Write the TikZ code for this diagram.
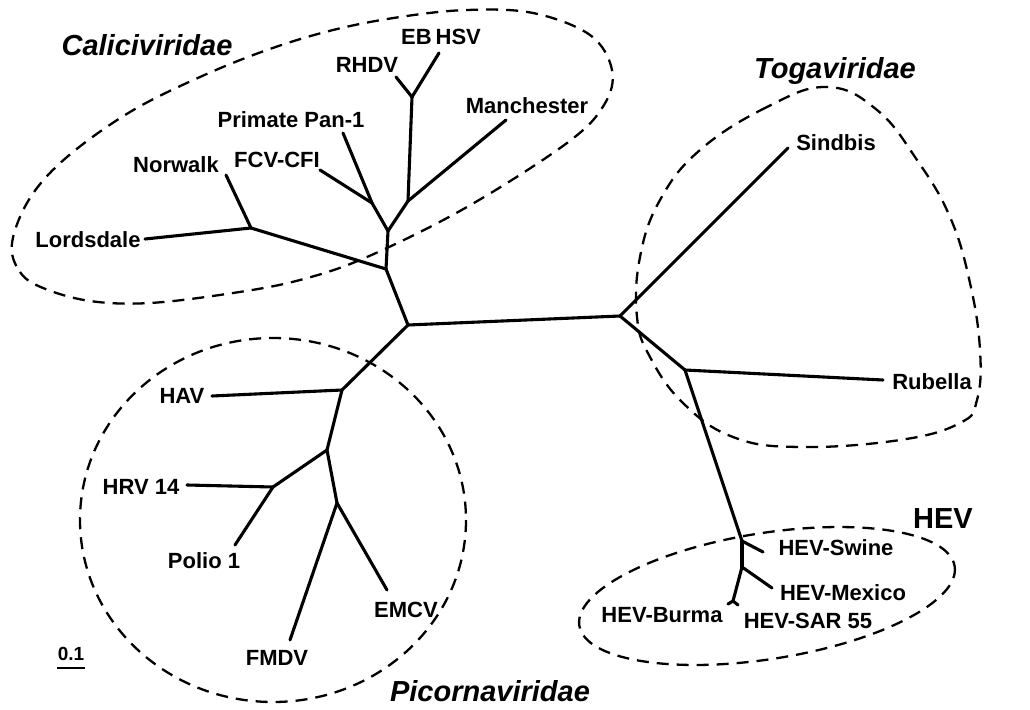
\documentclass[tikz,border=0pt]{standalone}
\usepackage{fontspec}
\setmainfont{Liberation Sans}
\begin{document}
\begin{tikzpicture}[x=1pt,y=-1pt,
  br/.style={line width=3.1pt, line cap=round, line join=round},
  grp/.style={line width=2.3pt, dash pattern=on 12pt off 8pt},
  lab/.style={font=\fontsize{22}{25}\selectfont\bfseries, inner sep=0pt, anchor=base},
  fam/.style={font=\fontsize{29}{32}\selectfont\bfseries\itshape, inner sep=0pt, anchor=base}]
\useasboundingbox (0,0) rectangle (1030,709);

% group outlines
\draw[grp] plot[smooth cycle, tension=0.6] coordinates {(12,243) (20,272) (43,288) (90,301) (150,303) (233,293) (300,280) (367,257) (467,207) (567,143) (604,105) (612,70) (590,35) (533,13) (467,10) (400,17) (333,30) (267,50) (200,77) (130,112) (67,157) (30,198)};
\draw[grp] (273,520) ellipse (193 and 182);
\draw[grp, rotate around={9:(767,596)}] (767,596) ellipse (190 and 63);
\draw[grp] plot[smooth cycle, tension=0.7] coordinates {(827,87) (767,107) (700,150) (660,200) (640,257) (637,317) (650,357) (683,403) (733,437) (800,447) (900,440) (960,423) (977,400) (980,350) (970,283) (950,217) (917,160) (877,110)};

% tree coordinates
\coordinate (L) at (408,325);
\coordinate (R) at (620,316);
\coordinate (C1) at (386,269);
\coordinate (N1) at (251,228);
\coordinate (lord) at (145,239);
\coordinate (nor) at (226,175);
\coordinate (C2) at (388,231);
\coordinate (C3) at (372,203);
\coordinate (C4) at (408,201);
\coordinate (fcv) at (320,170);
\coordinate (pan) at (343,133);
\coordinate (man) at (506,120);
\coordinate (C5) at (412,97);
\coordinate (rhdv) at (396,77);
\coordinate (ebhsv) at (439,53);
\coordinate (P1) at (342,390);
\coordinate (hav) at (212,396);
\coordinate (P2) at (327,450);
\coordinate (P3) at (273,487);
\coordinate (hrv) at (187,485);
\coordinate (polio) at (235,545);
\coordinate (P4) at (337,503);
\coordinate (fmdv) at (290,640);
\coordinate (emcv) at (387,590);
\coordinate (sind) at (788,148);
\coordinate (T1) at (685,370);
\coordinate (rub) at (883,380);
\coordinate (H1) at (742,541);
\coordinate (swine) at (763,552);
\coordinate (H2) at (742,567);
\coordinate (mex) at (772,588);
\coordinate (H3) at (733,601);
\coordinate (burma) at (728,604);
\coordinate (sar) at (738,605);

% branches
\draw[br] (L) -- (R);
\draw[br] (L) -- (C1);
\draw[br] (C1) -- (N1);
\draw[br] (N1) -- (lord);
\draw[br] (N1) -- (nor);
\draw[br] (C1) -- (C2);
\draw[br] (C2) -- (C3);
\draw[br] (C2) -- (C4);
\draw[br] (C3) -- (fcv);
\draw[br] (C3) -- (pan);
\draw[br] (C4) -- (man);
\draw[br] (C4) -- (C5);
\draw[br] (C5) -- (rhdv);
\draw[br] (C5) -- (ebhsv);
\draw[br] (L) -- (P1);
\draw[br] (P1) -- (hav);
\draw[br] (P1) -- (P2);
\draw[br] (P2) -- (P3);
\draw[br] (P3) -- (hrv);
\draw[br] (P3) -- (polio);
\draw[br] (P2) -- (P4);
\draw[br] (P4) -- (fmdv);
\draw[br] (P4) -- (emcv);
\draw[br] (R) -- (sind);
\draw[br] (R) -- (T1);
\draw[br] (T1) -- (rub);
\draw[br] (T1) -- (H1);
\draw[br] (H1) -- (swine);
\draw[br] (H1) -- (H2);
\draw[br] (H2) -- (mex);
\draw[br] (H2) -- (H3);
\draw[br] (H3) -- (burma);
\draw[br] (H3) -- (sar);

% labels
\node[fam] (fcal) at (147,56) {Caliciviridae};
\node[fam] (ftog) at (835,78) {Togaviridae};
\node[fam] (fpic) at (490,701) {Picornaviridae};
\node[lab, font=\fontsize{29}{32}\selectfont\bfseries] (fhev) at (943,528) {HEV};
\node[lab] (trhdv) at (367,72) {RHDV};
\node[lab] (tebhsv) at (441,45) {EB\kern4pt HSV};
\node[lab] (tman) at (527,113) {Manchester};
\node[lab] (tpan) at (291,127) {Primate Pan-1};
\node[lab] (tfcv) at (277,167) {FCV-CFI};
\node[lab] (tnor) at (176,172) {Norwalk};
\node[lab] (tlord) at (88,247) {Lordsdale};
\node[lab] (tsind) at (836,150) {Sindbis};
\node[lab] (trub) at (932,389) {Rubella};
\node[lab] (thav) at (182,403) {HAV};
\node[lab] (thrv) at (141,494) {HRV 14};
\node[lab] (tpolio) at (204,568) {Polio 1};
\node[lab] (tfmdv) at (277,665) {FMDV};
\node[lab] (temcv) at (406,617) {EMCV};
\node[lab] (tswine) at (836,555) {HEV-Swine};
\node[lab] (tmex) at (843,600) {HEV-Mexico};
\node[lab] (tburma) at (662,622) {HEV-Burma};
\node[lab] (tsar) at (808,628) {HEV-SAR 55};

% scale bar
\node[lab, font=\fontsize{19}{22}\selectfont\bfseries] (scl) at (71,660) {0.1};
\coordinate (sb1) at (57,668);
\coordinate (sb2) at (85,668);
\draw[line width=2.5pt] (sb1) -- (sb2);
\end{tikzpicture}
\end{document}
